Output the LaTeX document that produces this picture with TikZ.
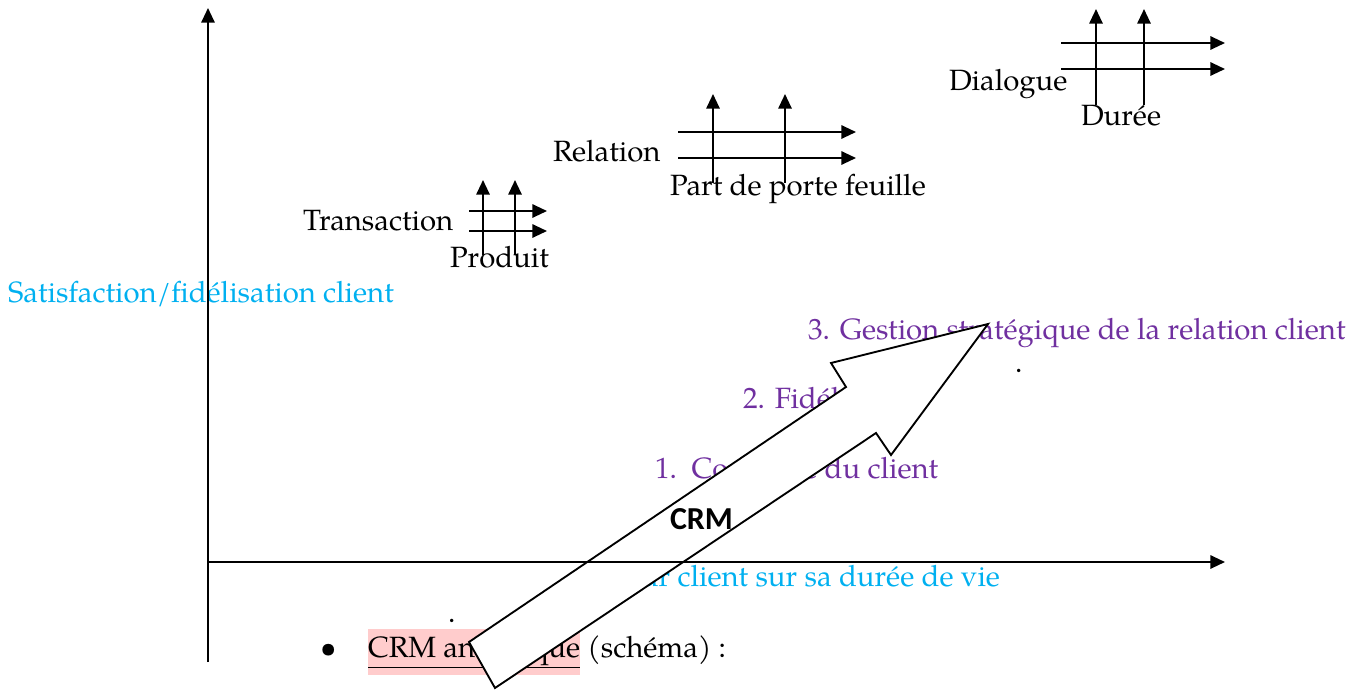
\documentclass[tikz,border=0pt]{standalone}
\usepackage{fontspec}
\setmainfont{texgyrepagella}[Extension=.otf,UprightFont=*-regular,BoldFont=*-bold,ItalicFont=*-italic]
\newfontfamily\crmfont{Carlito}
\usetikzlibrary{arrows.meta}
\definecolor{cyanW}{RGB}{0,176,240}
\definecolor{purpW}{RGB}{112,48,160}
\definecolor{pinkW}{RGB}{255,204,204}
\tikzset{
  axisarrow/.style={line width=1.5pt,-{Triangle[length=11pt,width=10pt]}},
  gridarrow/.style={line width=1.5pt,-{Triangle[length=11pt,width=10pt]}},
  lbl/.style={anchor=base west,inner sep=0pt,outer sep=0pt},
  cyanlbl/.style={lbl,text=cyanW},
  purplbl/.style={lbl,text=purpW},
  blockarrow/.style={draw=black,fill=white,line width=1.4pt,line join=miter}
}
\begin{document}
\begin{tikzpicture}[x=0.75pt,y=-0.75pt,font=\fontsize{22}{26}\selectfont]
\useasboundingbox (0,0) rectangle (1359,689);

% labels covered later by the block arrow
\node[cyanlbl] (ylab) at (8,302) {Satisfaction/fidélisation client};
\node[purplbl] (s3) at (808,339) {3. Gestion stratégique de la relation client};
\node[purplbl] (s2) at (743,408) {2. Fidélisation};
\node[purplbl] (s1) at (655,478) {1.\ \ Conquête du client};
\node[cyanlbl,anchor=base east] (xlab) at (1000,586) {Valeur client sur sa durée de vie};
\node[lbl] (dot1) at (1015,372) {.};
\node[lbl] (dot2) at (448,622) {.};
\node[lbl] (bullet) at (320,657) {•};
\node[lbl,fill=pinkW,inner ysep=5pt,inner xsep=0pt] (crmana) at (368,657) {\underline{CRM analytique}};
\node[lbl,anchor=base west] (schema) at (crmana.base east) {\ (schéma) :};

% small grids
\node[lbl] (trans) at (303,230) {Transaction};
\node[lbl] (prod) at (450,267) {Produit};
\coordinate (t1a) at (469,211); \coordinate (t1b) at (547,211);
\coordinate (t2a) at (469,231); \coordinate (t2b) at (547,231);
\coordinate (t3a) at (483,255); \coordinate (t3b) at (483,180);
\coordinate (t4a) at (515,255); \coordinate (t4b) at (515,180);
\draw[gridarrow] (t1a) -- (t1b);
\draw[gridarrow] (t2a) -- (t2b);
\draw[gridarrow] (t3a) -- (t3b);
\draw[gridarrow] (t4a) -- (t4b);

\node[lbl] (rel) at (553,161) {Relation};
\node[lbl] (part) at (670,195) {Part de porte feuille};
\coordinate (r1a) at (678,132); \coordinate (r1b) at (856,132);
\coordinate (r2a) at (678,158); \coordinate (r2b) at (856,158);
\coordinate (r3a) at (713,183); \coordinate (r3b) at (713,94);
\coordinate (r4a) at (785,183); \coordinate (r4b) at (785,94);
\draw[gridarrow] (r1a) -- (r1b);
\draw[gridarrow] (r2a) -- (r2b);
\draw[gridarrow] (r3a) -- (r3b);
\draw[gridarrow] (r4a) -- (r4b);

\node[lbl] (dial) at (949,90) {Dialogue};
\node[lbl] (duree) at (1081,125) {Durée};
\coordinate (d1a) at (1061,43); \coordinate (d1b) at (1225,43);
\coordinate (d2a) at (1061,69); \coordinate (d2b) at (1225,69);
\coordinate (d3a) at (1096,105); \coordinate (d3b) at (1096,9);
\coordinate (d4a) at (1144,105); \coordinate (d4b) at (1144,9);
\draw[gridarrow] (d1a) -- (d1b);
\draw[gridarrow] (d2a) -- (d2b);
\draw[gridarrow] (d3a) -- (d3b);
\draw[gridarrow] (d4a) -- (d4b);

% block arrow
\coordinate (ba1) at (469,642);
\coordinate (ba2) at (846,387);
\coordinate (ba3) at (831,363);
\coordinate (ba4) at (988,324);
\coordinate (ba5) at (891,455);
\coordinate (ba6) at (876,433);
\coordinate (ba7) at (495,688);
\draw[blockarrow] (ba1) -- (ba2) -- (ba3) -- (ba4) -- (ba5) -- (ba6) -- (ba7) -- cycle;

% axes
\coordinate (o) at (208,562);
\coordinate (ybot) at (208,662);
\coordinate (ytop) at (208,8);
\coordinate (xend) at (1225,562);
\draw[axisarrow] (ybot) -- (ytop);
\draw[axisarrow] (o) -- (xend);

\node[lbl,font=\crmfont\bfseries\fontsize{24}{28}\selectfont] (crm) at (670,529) {CRM};
\end{tikzpicture}
\end{document}
